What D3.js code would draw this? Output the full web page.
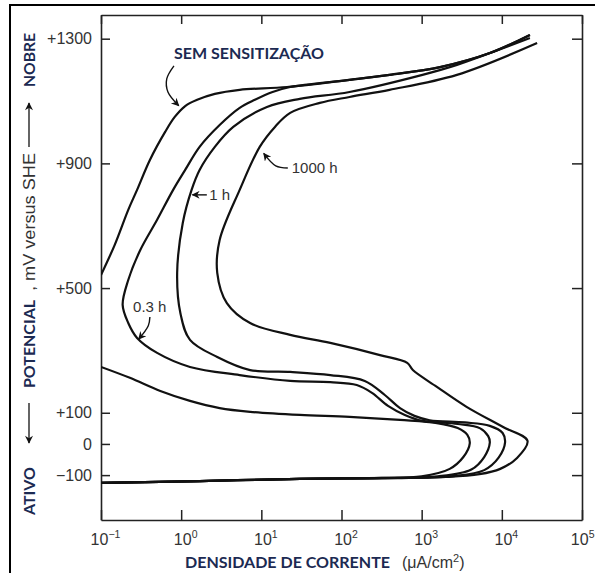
<!DOCTYPE html>
<html>
<head>
<meta charset="utf-8">
<script src="https://cdn.jsdelivr.net/npm/d3@7"></script>
<style>
body { margin: 0; background: #fff; }
svg { display: block; }
</style>
</head>
<body>
<svg id="chart"></svg>
<script>
// curves as [log10 of current density (uA/cm2), potential mV vs SHE]
var semSensitizacaoBaixo = [[-1.00,-125],[0.23,-119],[1.48,-112],[2.50,-109],[3.00,-104],[3.35,-80],[3.52,-42],[3.60,2],
  [3.57,29],[3.45,51],[3.19,67],[2.73,77],[2.10,87],[1.48,93],[0.86,103],[0.48,115],[0.11,138],[-0.26,170],[-0.64,212],[-1.00,247]];
var semSensitizacaoAlto = [[-1.00,542],[-0.83,638],[-0.66,751],[-0.55,815],[-0.39,911],[-0.20,1001],[-0.08,1049],[0.05,1084],
  [0.20,1104],[0.42,1123],[0.73,1136],[1.32,1145],[2.10,1168],[2.60,1184],[3.23,1209],[3.85,1254],[4.35,1312]];
var curva03h = [[-1.00,-125],[0.23,-119],[1.48,-112],[2.60,-109],[3.20,-104],[3.62,-82],[3.78,-42],[3.85,4],[3.83,25],
  [3.73,50],[3.45,64],[3.01,74],[2.79,93],[2.58,122],[2.38,164],[2.19,189],[1.86,198],[1.36,202],[0.73,221],[0.11,247],
  [-0.30,292],[-0.55,340],[-0.66,388],[-0.73,446],[-0.66,526],[-0.51,622],[-0.30,719],[-0.10,815],[0.05,879],[0.23,953],
  [0.48,1023],[0.73,1078],[0.92,1104],[1.14,1129],[1.36,1145],[2.10,1168],[2.60,1184],[3.23,1209],[3.85,1254],[4.35,1312]];
var curva1h = [[-1.00,-125],[0.23,-119],[1.48,-112],[2.70,-109],[3.40,-103],[3.78,-84],[3.96,-44],[4.04,4],[4.01,35],
  [3.85,58],[3.54,69],[3.10,76],[2.91,90],[2.73,115],[2.54,157],[2.29,202],[1.86,221],[1.36,231],[0.86,237],[0.45,279],
  [0.11,334],[-0.01,420],[-0.05,549],[0.02,709],[0.13,815],[0.23,879],[0.42,953],[0.65,1017],[1.07,1081],[1.48,1107],
  [2.10,1129],[3.01,1184],[3.44,1216],[4.35,1302]];
var curva1000h = [[-1.00,-125],[0.23,-119],[1.48,-112],[2.60,-110],[3.30,-106],[3.72,-97],[3.98,-80],[4.19,-45],[4.32,10],
  [4.01,55],[3.56,119],[3.19,183],[2.89,237],[2.82,260],[2.48,285],[1.86,324],[1.36,350],[0.86,388],[0.57,452],[0.45,549],
  [0.48,654],[0.73,815],[0.98,953],[1.17,1017],[1.36,1062],[1.73,1094],[2.10,1113],[2.60,1136],[3.44,1184],[4.44,1286]];

var yTicks = [-100, 0, 100, 500, 900, 1300];
var xExpoentes = [-1, 0, 1, 2, 3, 4, 5];

// labels and their arrows, same units as the curves
var rotulos = [
  {texto: "SEM SENSITIZAÇÃO", pos: [-0.09, 1235], bold: true, largura: 150},
  {texto: "1000 h", pos: [1.38, 869]},
  {texto: "1 h", pos: [0.35, 783]},
  {texto: "0.3 h", pos: [-0.60, 423]}
];
var setas = [
  [[-0.09,1213],[-0.18,1171],[-0.165,1129],[-0.03,1085]],
  [[1.33,885],[1.18,892],[1.03,932]],
  [[0.32,799],[0.14,799]],
  [[-0.39,407],[-0.41,379],[-0.53,336]]
];

var svgWidth = 595, svgHeight = 573;
var azul = "#1c2a52";
var svg = d3.select("#chart").attr("width", svgWidth).attr("height", svgHeight);

// outer box, only the top and left sides are in the picture
svg.append("path").attr("d", "M10,573V5H595").attr("fill", "none")
  .attr("stroke", "#000").attr("stroke-width", 2);

var x = d3.scaleLog().domain([0.1, 1e5]).range([101, 582]);
var y = d3.scaleLinear().domain([-244, 1376]).range([520, 15]);
var px = function(d) { return x(Math.pow(10, d[0])); };
var py = function(d) { return y(d[1]); };

var defs = svg.append("defs");
defs.append("clipPath").attr("id", "area").append("rect")
  .attr("x", 101).attr("y", 15).attr("width", 481).attr("height", 505);
defs.append("marker").attr("id", "ponta").attr("viewBox", "0 0 10 10")
  .attr("refX", 9).attr("refY", 5).attr("markerWidth", 10).attr("markerHeight", 8)
  .attr("markerUnits", "userSpaceOnUse").attr("orient", "auto")
  .append("path").attr("d", "M0,0L10,5L0,10L3,5Z").attr("fill", "#111");

function estiloEixo(g) {
  g.select(".domain").attr("stroke", "#222").attr("stroke-width", 1.6);
  g.selectAll(".tick line").attr("stroke", "#222").attr("stroke-width", 1.5);
  g.selectAll(".tick text").attr("fill", "#333").attr("font-family", "Liberation Sans, Arial, sans-serif")
    .attr("font-size", 16);
}

var eixoY = svg.append("g").attr("transform", "translate(101,0)")
  .call(d3.axisLeft(y).tickValues(yTicks).tickSize(-9).tickSizeOuter(0).tickPadding(9)
    .tickFormat(function(d) { return d > 0 ? "+" + d : d < 0 ? "\u2212" + Math.abs(d) : "0"; }));
estiloEixo(eixoY);

svg.append("g").attr("transform", "translate(582,0)")
  .call(d3.axisRight(y).tickValues(yTicks).tickSize(-10).tickSizeOuter(0).tickFormat(""))
  .call(estiloEixo);

svg.append("g").attr("transform", "translate(0,15)")
  .call(d3.axisTop(x).tickValues(xExpoentes.map(function(e) { return Math.pow(10, e); }))
    .tickSize(-9).tickSizeOuter(0).tickFormat(""))
  .call(estiloEixo);

var eixoX = svg.append("g").attr("transform", "translate(0,520)")
  .call(d3.axisBottom(x).tickValues(xExpoentes.map(function(e) { return Math.pow(10, e); }))
    .tickSize(-10).tickSizeOuter(0).tickFormat(""));
estiloEixo(eixoX);
eixoX.selectAll(".tick text").each(function(d) {
  var e = Math.round(Math.log10(d));
  var t = d3.select(this).attr("y", 25).attr("dy", 0).attr("dx", 4);
  // last label sits at the window edge, keep it inside
  if (e === 5) t.attr("text-anchor", "end").attr("dx", 12);
  t.append("tspan").text("10");
  t.append("tspan").attr("dy", -7).attr("font-size", 10.5).text(e < 0 ? "\u2212" + (-e) : e);
});

var linha = d3.line().x(px).y(py).curve(d3.curveCatmullRom.alpha(0.5));
svg.append("g").attr("clip-path", "url(#area)")
  .selectAll("path")
  .data([semSensitizacaoBaixo, semSensitizacaoAlto, curva03h, curva1h, curva1000h])
  .enter()
  .append("path")
  .attr("d", linha)
  .attr("fill", "none")
  .attr("stroke", "#111")
  .attr("stroke-width", 2.2)
  .attr("stroke-linejoin", "round");

// annotation arrows
svg.selectAll(".seta").data(setas).enter().append("path")
  .attr("class", "seta")
  .attr("d", d3.line().x(px).y(py).curve(d3.curveCatmullRom.alpha(0.5)))
  .attr("fill", "none").attr("stroke", "#111").attr("stroke-width", 1.4)
  .attr("marker-end", "url(#ponta)");

svg.selectAll(".rotulo").data(rotulos).enter().append("text")
  .attr("class", "rotulo")
  .attr("x", function(d) { return px(d.pos); })
  .attr("y", function(d) { return py(d.pos); })
  .attr("font-family", function(d) { return d.bold ? "Lato, Open Sans, sans-serif" : "Liberation Sans, Arial, sans-serif"; })
  .attr("font-weight", function(d) { return d.bold ? "bold" : "normal"; })
  .attr("font-size", function(d) { return d.bold ? 16 : 15; })
  .attr("fill", function(d) { return d.bold ? azul : "#333"; })
  .each(function(d) {
    if (d.largura) d3.select(this).attr("textLength", d.largura).attr("lengthAdjust", "spacingAndGlyphs");
  })
  .text(function(d) { return d.texto; });

// x title
var tituloX = svg.append("g");
tituloX.append("text").attr("x", 185).attr("y", 568)
  .attr("font-family", "Lato, Open Sans, sans-serif").attr("font-weight", "bold").attr("font-size", 16)
  .attr("fill", azul).attr("textLength", 205).attr("lengthAdjust", "spacingAndGlyphs")
  .text("DENSIDADE DE CORRENTE");
var unid = tituloX.append("text").attr("x", 402).attr("y", 568)
  .attr("font-family", "Liberation Sans, Arial, sans-serif").attr("font-size", 16).attr("fill", "#333");
unid.append("tspan").text("(\u03bcA/cm");
unid.append("tspan").attr("dy", -6).attr("font-size", 11).text("2");
unid.append("tspan").attr("dy", 6).text(")");

// y title, rotated pieces
var pecasY = [
  {texto: "ATIVO", centro: 491, largura: 48, bold: true},
  {texto: "POTENCIAL", centro: 344, largura: 88, bold: true},
  {texto: ", mV versus SHE", centro: 222, largura: 138, bold: false},
  {texto: "NOBRE", centro: 60, largura: 54, bold: true}
];
svg.selectAll(".tituloY").data(pecasY).enter().append("text")
  .attr("class", "tituloY")
  .attr("transform", function(d) { return "translate(35," + d.centro + ") rotate(-90)"; })
  .attr("text-anchor", "middle")
  .attr("font-family", function(d) { return d.bold ? "Lato, Open Sans, sans-serif" : "Liberation Sans, Arial, sans-serif"; })
  .attr("font-weight", function(d) { return d.bold ? "bold" : "normal"; })
  .attr("font-size", 16)
  .attr("fill", function(d) { return d.bold ? azul : "#333"; })
  .attr("textLength", function(d) { return d.largura; })
  .attr("lengthAdjust", "spacingAndGlyphs")
  .text(function(d) { return d.texto; });

// arrows beside the y title
svg.append("path").attr("d", "M29,147V103").attr("stroke", "#111").attr("stroke-width", 1.3)
  .attr("marker-end", "url(#ponta)");
svg.append("path").attr("d", "M29,403V443").attr("stroke", "#111").attr("stroke-width", 1.3)
  .attr("marker-end", "url(#ponta)");
</script>
</body>
</html>
